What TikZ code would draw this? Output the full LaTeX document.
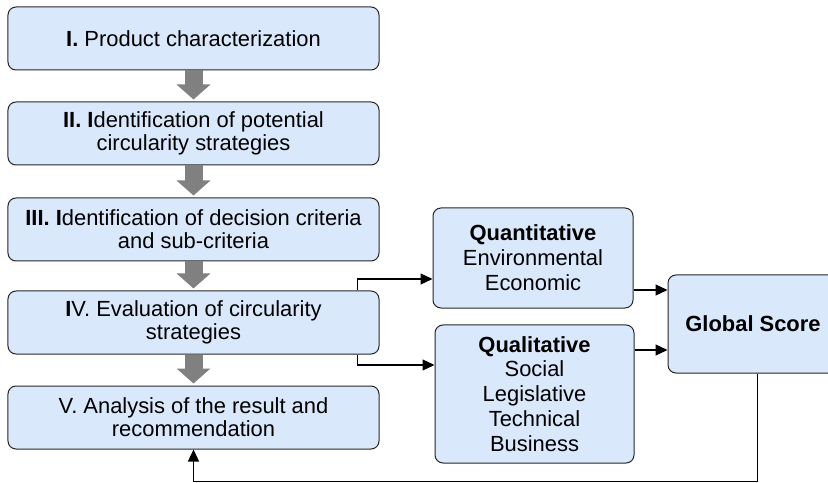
\documentclass[tikz,border=0pt]{standalone}
\usepackage{fontspec}
\setmainfont{Liberation Sans}
\usetikzlibrary{arrows.meta}
\definecolor{boxblue}{HTML}{DAE8FC}
\definecolor{stepgray}{HTML}{808080}

\begin{document}
\begin{tikzpicture}[x=1bp,y=-1bp,
  stage/.style={draw=black!85, line width=1bp, fill=boxblue, rounded corners=8bp,
    minimum width=371bp, minimum height=63bp, align=center, inner sep=0pt,
    font=\fontsize{22}{23}\selectfont},
  group/.style={stage, minimum width=200bp, font=\fontsize{22}{25}\selectfont},
  flow/.style={stepgray, line width=18bp, shorten >=2bp,
    -{Triangle[width=33bp,length=15bp]}},
  link/.style={black, line width=1.2bp, -{Triangle[width=11bp,length=12bp]}}]
\useasboundingbox (0,0) rectangle (828,483);

% left column
\node[stage] (p1) at (193.5,38.5) {\textbf{I.} Product characterization};
\node[stage] (p2) at (193.5,133.5) {\textbf{II. I}dentification of potential\\circularity strategies};
\node[stage] (p3) at (193.5,229.5) {\textbf{III. I}dentification of decision criteria\\and sub-criteria};
\node[stage] (p4) at (193.5,322.5) {\textbf{I}V. Evaluation of circularity\\strategies};
\node[stage] (p5) at (193.5,417.5) {V. Analysis of the result and\\recommendation};

\draw[flow] (p1.south) -- (p2.north);
\draw[flow] (p2.south) -- (p3.north);
\draw[flow] (p3.south) -- (p4.north);
\draw[flow] (p4.south) -- (p5.north);

% criteria groups
\node[group, minimum height=100bp] (quant) at (533,258)
  {\textbf{Quantitative}\\Environmental\\Economic};
\node[group, minimum width=199bp, minimum height=138bp] (qual) at (534.5,394)
  {\textbf{Qualitative}\\Social\\Legislative\\Technical\\Business};
\node[group, minimum width=170bp, minimum height=98bp] (score) at (753,324)
  {\textbf{Global Score}};

\draw[link] ([xshift=-22bp]p4.north east) |- ([yshift=-21bp]quant.west);
\draw[link] ([xshift=-22bp]p4.south east) |- ([yshift=29bp]qual.west);
\draw[link] ([yshift=-32bp]quant.east) coordinate (qa) -- (qa -| score.west);
\draw[link] ([yshift=44bp]qual.east) coordinate (qb) -- (qb -| score.west);
\draw[link] ([xshift=90bp]score.south west) -- ++(0,108) -| (p5.south);
\end{tikzpicture}
\end{document}
